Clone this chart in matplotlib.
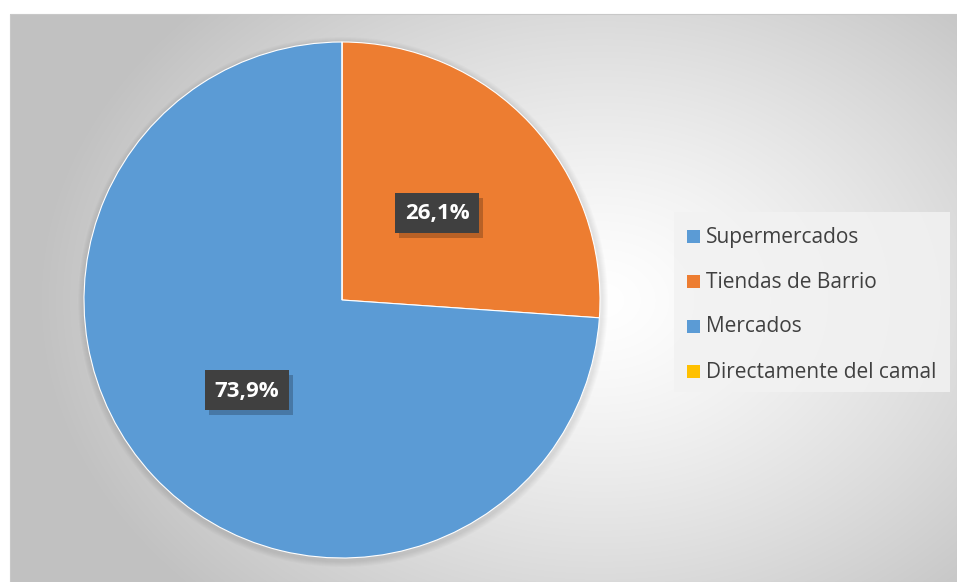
import numpy as np
import matplotlib
matplotlib.use("Agg")
import matplotlib.pyplot as plt
from matplotlib.patches import Rectangle

categories = ["Supermercados", "Tiendas de Barrio", "Mercados", "Directamente del camal"]
values = [0.0, 26.1, 73.9, 0.0]
labels = ["", "26,1%", "73,9%", ""]
colors = ["#5b9bd5", "#ed7d31", "#5b9bd5", "#ffc000"]

W, H = 957, 582
plt.rcParams["font.family"] = ["Open Sans", "DejaVu Sans"]
fig = plt.figure(figsize=(W / 100, H / 100), dpi=100)

# background: white margin + radial gradient chart area
bg = fig.add_axes([0, 0, 1, 1])
bg.set_xlim(0, W)
bg.set_ylim(H, 0)
bg.axis("off")
x0, y0 = 10, 14
yy, xx = np.mgrid[y0:H, x0:W]
cx, cy = 600, 300
d = np.sqrt(((xx - cx) / 560.0) ** 2 + ((yy - cy) / 420.0) ** 2)
d = np.clip(d, 0, 1)
g = 1.0 - 0.24 * d ** 1.3
img = np.dstack([g, g, g])
bg.imshow(img, extent=[x0, W, H, y0], aspect="auto", zorder=0)
bg.add_patch(Rectangle((x0, y0), W - x0, H - y0, fill=False, ec="#c8c8c8", lw=0.8, zorder=1))

# soft shadow behind pie
pcx, pcy, r = 342, 300, 258
for k in range(6):
    c = plt.Circle((pcx + 1, pcy + 2), r + 7 - k, color="black", alpha=0.015, lw=0, zorder=2)
    bg.add_patch(c)

# pie
ax = fig.add_axes([(pcx - r) / W, 1 - (pcy + r) / H, 2 * r / W, 2 * r / H])
wedges, _ = ax.pie(values, colors=colors, startangle=90, counterclock=False,
                   wedgeprops=dict(linewidth=0.8, edgecolor="white"))
ax.set_xlim(-1, 1)
ax.set_ylim(-1, 1)
ax.set_aspect("equal")

# overlay for data labels and legend
ov = fig.add_axes([0, 0, 1, 1], facecolor="none")
ov.set_xlim(0, W)
ov.set_ylim(H, 0)
ov.axis("off")

label_pos = {1: (437, 213), 2: (247, 390)}
for i, (lx, ly) in label_pos.items():
    bw, bh = 84, 40
    ov.add_patch(Rectangle((lx - bw / 2 + 4, ly - bh / 2 + 5), bw, bh, color="black", alpha=0.22, lw=0))
    ov.add_patch(Rectangle((lx - bw / 2, ly - bh / 2), bw, bh, color="#404040", lw=0))
    ov.text(lx, ly + 1, labels[i], color="white", fontsize=16, fontweight="bold",
            ha="center", va="center")

ov.add_patch(Rectangle((674, 212), 276, 180, color="#f2f2f2", alpha=0.85, lw=0))
for j, name in enumerate(categories):
    yc = 236 + j * 45
    ov.add_patch(Rectangle((687, yc - 6), 13, 13, color=colors[j], lw=0))
    ov.text(706, yc + 1, name, color="#404040", fontsize=15, ha="left", va="center")

fig.savefig("out.png", dpi=100)
